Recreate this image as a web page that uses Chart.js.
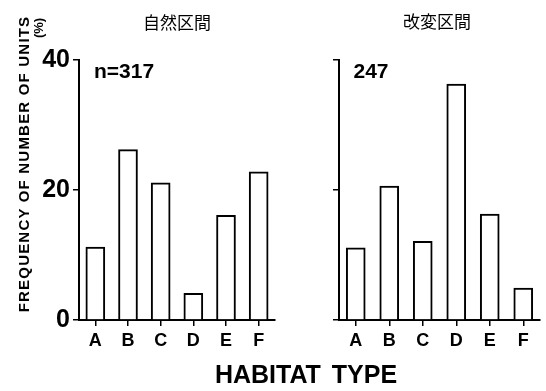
<!DOCTYPE html>
<html>
<head>
<meta charset="utf-8">
<script src="https://cdn.jsdelivr.net/npm/chart.js@4/dist/chart.umd.min.js"></script>
<style>
  body { margin: 0; background: #fff; width: 546px; height: 391px; overflow: hidden; position: relative; font-family: Arial, "Liberation Sans", sans-serif; }
  canvas { position: absolute; top: 0; }
  .lbl { position: absolute; transform: translate(-50%, -50%); white-space: nowrap; color: #000; }
  .jp { font-family: "Noto Sans CJK JP", sans-serif; font-size: 17px; }
  .n { font-weight: bold; font-size: 21px; }
</style>
</head>
<body>
<canvas id="left" width="280" height="391" style="left:0"></canvas>
<canvas id="right" width="266" height="391" style="left:280px"></canvas>

<div class="lbl jp" style="left:177px; top:21px">自然区間</div>
<div class="lbl jp" style="left:437px; top:20px">改変区間</div>
<div class="lbl n" style="left:124px; top:71px">n=317</div>
<div class="lbl n" style="left:371px; top:71px">247</div>
<div class="lbl" style="left:23px; top:164px; transform: translate(-50%, -50%) rotate(-90deg); font-weight:bold; font-size:15px; letter-spacing:1.2px">FREQUENCY OF NUMBER OF UNITS</div>
<div class="lbl" style="left:38px; top:28px; transform: translate(-50%, -50%) rotate(-90deg); font-weight:bold; font-size:13px">(%)</div>
<div class="lbl" style="left:306px; top:374px; font-weight:bold; font-size:25px; word-spacing:4px">HABITAT TYPE</div>

<script>
// habitat categories and % frequency per section
const habitats = ['A', 'B', 'C', 'D', 'E', 'F'];
const naturalFreq = [11.2, 26.2, 21.1, 4.1, 16.1, 22.8];
const modifiedFreq = [11.1, 20.6, 12.1, 36.3, 16.3, 4.9];
const yTicks = [0, 20, 40];

const makeChart = (id, values, opts) => {
  return new Chart(document.getElementById(id), {
    type: 'bar',
    data: {
      labels: habitats,
      datasets: [
        {
          data: values,
          backgroundColor: '#fff',
          borderColor: '#000',
          borderWidth: 2,
          barThickness: 19
        }
      ]
    },
    options: {
      responsive: false,
      animation: false,
      layout: {
        padding: { left: 0, top: 60, right: opts.padRight, bottom: 41 }
      },
      plugins: {
        legend: { display: false },
        tooltip: { enabled: false }
      },
      scales: {
        x: {
          afterFit: (scale) => { scale.height = 30; },
          border: { color: '#000', width: 2 },
          grid: { offset: false, drawOnChartArea: false, drawTicks: true, tickLength: 6, color: '#000', lineWidth: 1.5 },
          ticks: { color: '#000', padding: 4, font: { family: 'Arial', size: 18, weight: 'bold' } }
        },
        y: {
          min: 0,
          max: 40,
          afterFit: (scale) => { scale.width = opts.yWidth; },
          afterBuildTicks: (scale) => { scale.ticks = yTicks.map(v => ({ value: v })); },
          border: { color: '#000', width: 2 },
          grid: { drawOnChartArea: false, drawTicks: true, tickLength: 6, color: '#000', lineWidth: 1.5 },
          ticks: {
            color: opts.showLabels ? '#000' : 'rgba(0,0,0,0)',
            padding: 3,
            font: { family: 'Arial', size: 25, weight: 'bold' }
          }
        }
      }
    }
  });
};

makeChart('left', naturalFreq, { yWidth: 79, padRight: 5, showLabels: true });
makeChart('right', modifiedFreq, { yWidth: 59, padRight: 6, showLabels: false });
</script>
</body>
</html>
